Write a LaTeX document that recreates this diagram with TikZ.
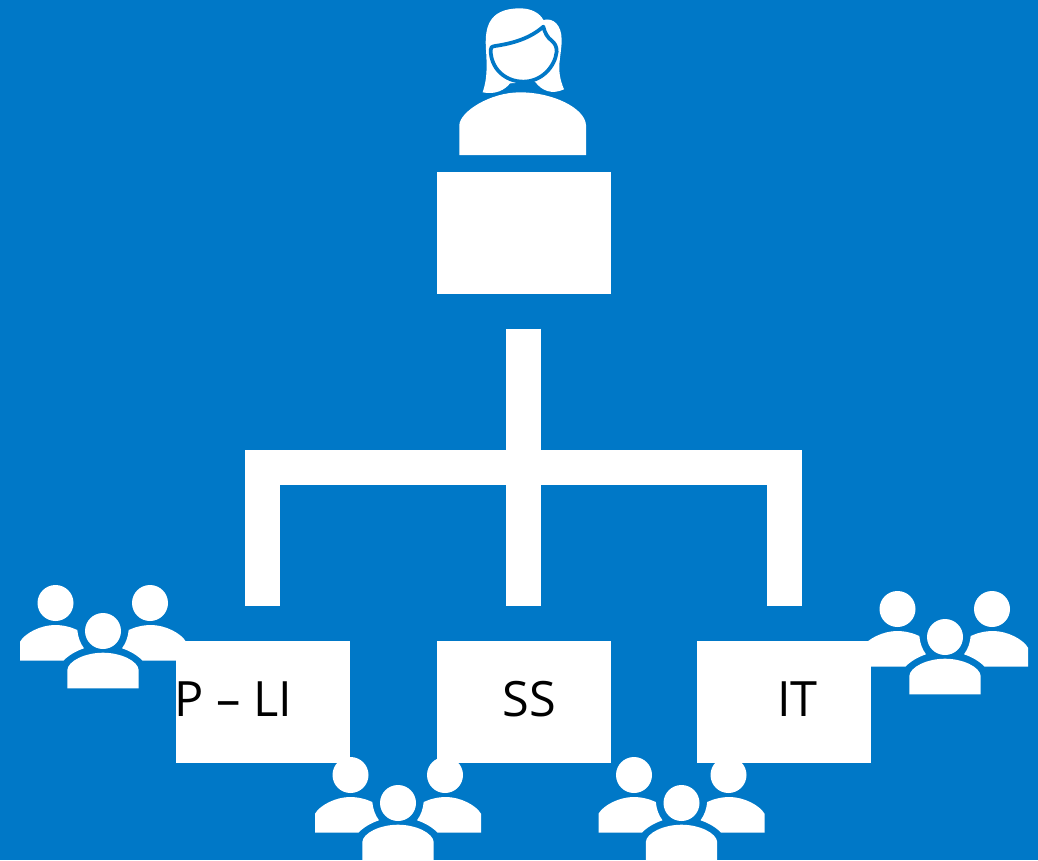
\documentclass[tikz,border=0pt]{standalone}
\usepackage{fontspec}
\setmainfont{Open Sans}
\definecolor{bg}{HTML}{0078C7}
\tikzset{
  x=0.75pt,y=-0.75pt,
  box/.style={fill=white,draw=none,inner sep=0pt,outer sep=0pt,minimum width=130.5pt,minimum height=91.5pt},
  lbl/.style={text=black,font=\fontsize{36.5}{40}\selectfont,inner sep=0pt,anchor=base west},
  wire/.style={draw=white,line width=26.25pt},
  peoplegroup/.pic={
    \fill[white] (-47.5,-28) circle[radius=18] (47,-28) circle[radius=18] (0,0) circle[radius=18];
    \fill[white] (-83,29.7) -- (-83,10.7) .. controls (-78,2) and (-62,-6) .. (-48,-6) .. controls (-40,-6) and (-32,-4) .. (-25.7,-1)
      .. controls (-25,6) and (-23,12) .. (-19,17.3) .. controls (-27,20) and (-34,24) .. (-39.7,29.7) -- cycle;
    \fill[white] (83,29.7) -- (83,10.7) .. controls (78,2) and (62,-6) .. (48,-6) .. controls (40,-6) and (32,-4) .. (25.7,-1)
      .. controls (25,6) and (23,12) .. (19,17.3) .. controls (27,20) and (34,24) .. (39.7,29.7) -- cycle;
    \fill[white] (-35.7,57.3) -- (-35.7,39) .. controls (-35,30) and (-18,21.7) .. (0,21.7) .. controls (18,21.7) and (35,30) .. (35.7,39) -- (35.7,57.3) -- cycle;
  }
}
\begin{document}
\begin{tikzpicture}
\useasboundingbox (0,0) rectangle (1038,860);
\clip (0,0) rectangle (1038,860);
\fill[bg] (0,0) rectangle (1038,860);
% people groups behind boxes
\pic at (103,631) {peoplegroup};
\pic at (945,637) {peoplegroup};
\pic at (398,803) {peoplegroup};
\pic at (681.5,803) {peoplegroup};
% boxes
\node[box,anchor=north west] (top) at (437,172) {};
\node[box,anchor=north west] (pli) at (176,641) {};
\node[box,anchor=north west] (ss) at (437,641) {};
\node[box,anchor=north west] (it) at (697,641) {};
\node[lbl] (lpli) at (174,716) {P – LI};
\node[lbl] (lss) at (502.5,716) {SS};
\node[lbl] (lit) at (777,716) {IT};
% connectors
\coordinate (stem) at (523.5,328.5);
\coordinate (jl) at (262.5,467.5);
\coordinate (jr) at (784.5,467.5);
\coordinate (el) at (262.5,606);
\coordinate (ec) at (523.5,606);
\coordinate (er) at (784.5,606);
\draw[wire] (stem) -- (ec);
\draw[wire,line join=miter] (el) -- (jl) -- (jr) -- (er);
% manager figure
\begin{scope}[shift={(440,0)},x=0.25pt,y=-0.25pt]
 \fill[white] (58,465) -- (58,375) .. controls (60,335) and (150,277) .. (240,277) .. controls (340,277) and (435,325) .. (438,375) -- (438,465) -- cycle;
 \fill[white] (128,277) .. controls (140,240) and (142,210) .. (138,150) .. controls (134,90) and (140,25) .. (240,25)
   .. controls (275,25) and (300,40) .. (310,60) .. controls (340,52) and (365,75) .. (365,120)
   .. controls (365,170) and (345,205) .. (372,268) .. controls (335,285) and (305,272) .. (285,245)
   -- (210,250) .. controls (195,270) and (165,285) .. (128,277) -- cycle;
 \draw[bg,fill=white,line width=2.8pt,line join=round] (152,150) .. controls (152,142) and (155,140) .. (165,138)
   .. controls (220,130) and (270,115) .. (310,80) .. controls (315,100) and (322,112) .. (335,122)
   .. controls (345,130) and (350,140) .. (350,155) .. controls (345,200) and (305,245) .. (250,245)
   .. controls (195,245) and (152,205) .. (152,150) -- cycle;
\end{scope}
\end{tikzpicture}
\end{document}
